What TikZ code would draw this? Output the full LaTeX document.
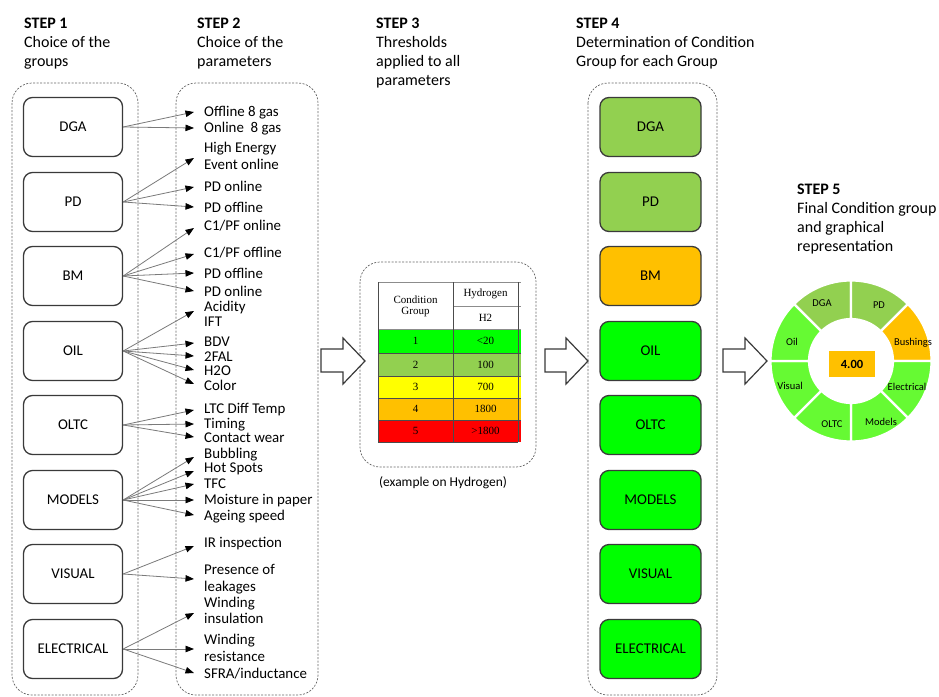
\documentclass[tikz,border=0pt]{standalone}
\usepackage{fontspec}
\setmainfont{Carlito}
\newfontfamily\tabfont{Liberation Serif}
\usetikzlibrary{arrows.meta}
\definecolor{lgreen}{HTML}{92D050}
\definecolor{bgreen}{HTML}{00FF00}
\definecolor{wgreen}{RGB}{102,250,51}
\definecolor{corange}{HTML}{FFC000}
\definecolor{cyellow}{HTML}{FFFF00}
\definecolor{cred}{HTML}{FF0000}
\definecolor{boxborder}{HTML}{3A3A3A}
\definecolor{linegray}{HTML}{7A7A7A}
\definecolor{dashgray}{HTML}{666666}
\tikzset{
  container/.style={draw=dashgray, line width=0.7pt, dash pattern=on 2pt off 1.5pt, rounded corners=20pt},
  grp/.style={draw=boxborder, line width=1.3pt, rounded corners=9pt, minimum width=99pt, minimum height=59pt, font=\fontsize{14.9}{17}\selectfont, inner sep=0pt},
  cgrp/.style={grp, minimum width=101pt},
  param/.style={anchor=base west, inner sep=0pt, font=\fontsize{14.9}{17}\selectfont},
  conn/.style={draw=linegray, line width=0.8pt, -{Triangle[length=8.5pt,width=6.5pt,color=black]}},
  header/.style={anchor=north west, inner sep=0pt, align=left, font=\fontsize{16}{19}\selectfont},
  blockarrow/.style={draw=boxborder, line width=1.2pt, fill=white, line join=miter},
  tabline/.style={draw=black!70, line width=0.6pt},
  tabtext/.style={inner sep=0pt, font=\tabfont\fontsize{11}{12}\selectfont, align=center},
  wlabel/.style={inner sep=0pt, font=\fontsize{10.5}{12}\selectfont},
}
\begin{document}
\begin{tikzpicture}[x=1pt,y=-1pt]
\useasboundingbox[fill=white] (0,0) rectangle (939,696);

% headers
\node[header] (h1) at (24,17.8) {\textbf{STEP 1}\\Choice of the\\groups};
\node[header] (h2) at (197,17.8) {\textbf{STEP 2}\\Choice of the\\parameters};
\node[header] (h3) at (376,17.8) {\textbf{STEP 3}\\Thresholds\\applied to all\\parameters};
\node[header] (h4) at (576,17.8) {\textbf{STEP 4}\\Determination of Condition\\Group for each Group};
\node[header] (h5) at (797,184) {\textbf{STEP 5}\\Final Condition group\\and graphical\\representation};

% containers
\draw[container] (12,83) rectangle (138,695);
\draw[container] (176,83) rectangle (318,695);
\draw[container] (360,262) rectangle (536,467);
\draw[container] (588,83) rectangle (717,695);

% step 1 boxes
\foreach \n/\t/\y in {1/DGA/127,2/PD/202,3/BM/276,4/OIL/351,5/OLTC/425,6/MODELS/500,7/VISUAL/574,8/ELECTRICAL/649}
  \node[grp] (g\n) at (73,\y) {\t};

% step 4 boxes
\foreach \n/\t/\y/\c in {1/DGA/127/lgreen,2/PD/202/lgreen,3/BM/276/corange,4/OIL/351/bgreen,5/OLTC/425/bgreen,6/MODELS/500/bgreen,7/VISUAL/574/bgreen,8/ELECTRICAL/649/bgreen}
  \node[cgrp, fill=\c] (c\n) at (650.5,\y) {\t};

% parameters
\foreach \y/\t [count=\i] in {112/{Offline 8 gas},128/{Online\ \ 8 gas},148/{High Energy},165/{Event online},187/{PD online},208/{PD offline},226/{C1/PF online},253/{C1/PF offline},274/{PD offline},292/{PD online},307/{Acidity},322/{IFT},342/{BDV},357/{2FAL},371/{H2O},386/{Color},409/{LTC Diff Temp},424/{Timing},438/{Contact wear},454/{Bubbling},468/{Hot Spots},484/{TFC},500/{Moisture in paper},516/{Ageing speed},543/{IR inspection},570/{Presence of},587/{leakages},603/{Winding},619/{insulation},640/{Winding},657/{resistance},674/{SFRA/inductance}}
  \node[param] (p\i) at (204,\y+4.5) {\t};

% connectors
\foreach \g/\ys in {1/{112,128},2/{158,187,207},3/{228,254,273,291},4/{311,343,356,370,384},5/{410,424,437},6/{457,471,484,500,515},7/{546,579},8/{613,649,673}}{
  \foreach \t in \ys {
    \coordinate (t\g-\t) at (194,\t);
    \draw[conn] (g\g.east) -- (t\g-\t);
  }
}

% block arrows
\draw[blockarrow] (321,349) -- (343,349) -- (343,338) -- (365,361) -- (343,384) -- (343,372) -- (321,372) -- cycle;
\draw[blockarrow] (545,349) -- (566,349) -- (566,338) -- (588,361) -- (566,384) -- (566,372) -- (545,372) -- cycle;
\draw[blockarrow] (723,349) -- (745,349) -- (745,338) -- (767,361) -- (745,384) -- (745,372) -- (723,372) -- cycle;

% table
\fill[bgreen] (378,329) rectangle (521,353);
\fill[lgreen] (378,353) rectangle (521,376);
\fill[cyellow] (378,376) rectangle (521,398);
\fill[corange] (378,398) rectangle (521,420);
\fill[cred] (378,420) rectangle (521,442);
\draw[tabline, draw=black!45] (378,282) -- (521,282);
\draw[tabline, draw=black!45] (453,306) -- (521,306);
\draw[tabline, draw=black!45] (378,329) -- (521,329);
\foreach \y in {353,376,398,420} \draw[tabline] (378,\y) -- (521,\y);
\draw[tabline] (378,442) -- (518,442);
\draw[tabline] (378,282) -- (378,442);
\draw[tabline] (453,282) -- (453,442);
\draw[tabline] (518,282) -- (518,442);
\node[tabtext] (tc) at (415.5,306) {Condition\\[-1pt]Group};
\node[tabtext] (th) at (485.5,294) {Hydrogen};
\node[tabtext] (th2) at (485.5,317.5) {H2};
\foreach \y/\a/\b [count=\i] in {341/1/{<20},364.5/2/100,387/3/700,409/4/1800,431/5/{>1800}}{
  \node[tabtext] (ta\i) at (415.5,\y) {\a};
  \node[tabtext] (tb\i) at (485.5,\y) {\b};
}
\node[inner sep=0pt, font=\fontsize{13.5}{15}\selectfont] (cap) at (443,483) {(example on Hydrogen)};

% wheel
\begin{scope}[shift={(851,361)}, yscale=-1]
\foreach \a/\c in {90/lgreen,45/lgreen,0/corange,-45/wgreen,-90/wgreen,-135/wgreen,180/wgreen,135/wgreen}{
  \pgfmathsetmacro\b{\a+45}
  \filldraw[fill=\c, draw=white, line width=2.2pt] (\a:42) arc[start angle=\a, end angle=\b, radius=42] -- (\b:80.5) arc[start angle=\b, end angle=\a, radius=80.5] -- cycle;
}
\end{scope}
\node[wlabel] (w1) at (822,303) {DGA};
\node[wlabel] (w2) at (879,305) {PD};
\node[wlabel] (w3) at (913,343) {Bushings};
\node[wlabel] (w4) at (907,387) {Electrical};
\node[wlabel] (w5) at (881,422) {Models};
\node[wlabel] (w6) at (832,424) {OLTC};
\node[wlabel] (w7) at (790,386) {Visual};
\node[wlabel] (w8) at (792,342) {Oil};
\node[fill=corange, minimum width=46pt, minimum height=26pt, inner sep=0pt, font=\bfseries\fontsize{12.5}{14}\selectfont] (score) at (852,364) {4.00};
\end{tikzpicture}
\end{document}
